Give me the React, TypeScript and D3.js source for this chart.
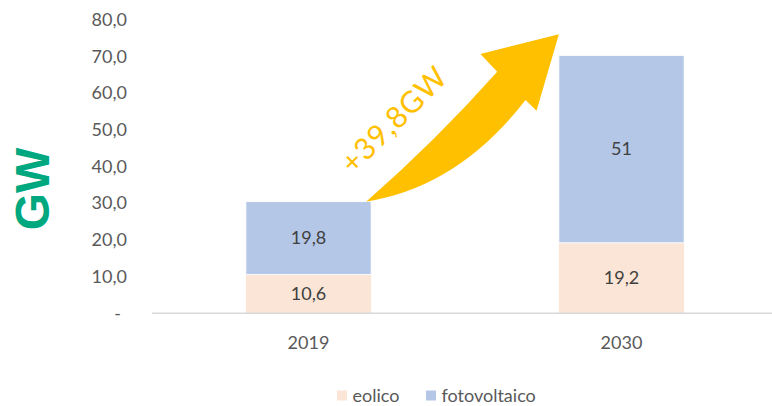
import { useEffect, useRef } from "react";
import * as d3 from "d3";

const years = ["2019", "2030"];
const eolico = [10.6, 19.2];
const fotovoltaico = [19.8, 51];
const eolicoLabels = ["10,6", "19,2"];
const fotoLabels = ["19,8", "51"];
const yTicks = [0, 10, 20, 30, 40, 50, 60, 70, 80];
const growthLabel = "+39,8GW";

const W = 772;
const H = 406;
const FONT = "Lato, 'Open Sans', sans-serif";

const App = () => {
  const ref = useRef<SVGSVGElement | null>(null);

  useEffect(() => {
    const svg = d3.select(ref.current);
    svg.selectAll("*").remove();

    const x = d3
      .scaleBand()
      .domain(years)
      .range([152, 778])
      .paddingInner(0.6)
      .paddingOuter(0.3);
    const y = d3.scaleLinear().domain([0, 80]).range([313.3, 19.5]);
    const bw = x.bandwidth();

    // y tick labels (no axis line)
    const fmt = (v: number) => (v === 0 ? "-" : d3.format(".1f")(v).replace(".", ","));
    svg
      .append("g")
      .selectAll("text")
      .data(yTicks)
      .join("text")
      .attr("x", (d) => (d === 0 ? 121 : 127))
      .attr("y", (d) => y(d))
      .attr("dy", "0.35em")
      .attr("text-anchor", "end")
      .style("font-family", FONT)
      .style("font-size", "18px")
      .style("fill", "#595959")
      .text(fmt);

    // GW title
    svg
      .append("text")
      .attr("transform", "translate(31.5,189) rotate(-90)")
      .attr("text-anchor", "middle")
      .attr("dy", "0.36em")
      .style("font-family", "'Liberation Sans', Arial, sans-serif")
      .style("font-weight", "bold")
      .style("font-size", "48px")
      .style("fill", "#00A880")
      .text("GW");

    // stacked bars
    const rows = years.map((yr, i) => ({
      yr,
      e: eolico[i],
      f: fotovoltaico[i],
      el: eolicoLabels[i],
      fl: fotoLabels[i],
    }));
    const g = svg.append("g");
    g.selectAll("rect.eol")
      .data(rows)
      .join("rect")
      .attr("class", "eol")
      .attr("x", (d) => x(d.yr)!)
      .attr("width", bw)
      .attr("y", (d) => y(d.e))
      .attr("height", (d) => y(0) - y(d.e))
      .style("fill", "#FBE5D6");
    g.selectAll("rect.fot")
      .data(rows)
      .join("rect")
      .attr("class", "fot")
      .attr("x", (d) => x(d.yr)!)
      .attr("width", bw)
      .attr("y", (d) => y(d.e + d.f))
      .attr("height", (d) => y(d.e) - y(d.e + d.f))
      .style("fill", "#B4C7E7")
      .style("stroke", "#fff")
      .style("stroke-width", 0.8);

    // x axis baseline
    svg
      .append("line")
      .attr("x1", 152)
      .attr("x2", W)
      .attr("y1", y(0))
      .attr("y2", y(0))
      .style("stroke", "#D9D9D9")
      .style("stroke-width", 1.5);

    // data labels
    const labelStyle = (sel: any) =>
      sel
        .attr("text-anchor", "middle")
        .attr("dy", "0.35em")
        .style("font-family", FONT)
        .style("font-size", "18px")
        .style("fill", "#404040");
    labelStyle(
      g.selectAll("text.el")
        .data(rows)
        .join("text")
        .attr("class", "el")
        .attr("x", (d: any) => x(d.yr)! + bw / 2)
        .attr("y", (d: any) => y(d.e / 2))
        .text((d: any) => d.el)
    );
    labelStyle(
      g.selectAll("text.fl")
        .data(rows)
        .join("text")
        .attr("class", "fl")
        .attr("x", (d: any) => x(d.yr)! + bw / 2)
        .attr("y", (d: any) => y(d.e + d.f / 2))
        .text((d: any) => d.fl)
    );

    // x category labels
    svg
      .append("g")
      .selectAll("text")
      .data(years)
      .join("text")
      .attr("x", (d) => x(d)! + bw / 2)
      .attr("y", 343)
      .attr("dy", "0.35em")
      .attr("text-anchor", "middle")
      .style("font-family", FONT)
      .style("font-size", "18px")
      .style("fill", "#595959")
      .text((d) => d);

    // growth arrow: from top-right corner of 2019 bar towards 2030 bar
    const tx = x("2019")! + bw - 5;
    const ty = y(eolico[0] + fotovoltaico[0]);
    const px = x("2030")!;
    const py = y(76);
    const dx = px - tx;
    const dy = py - ty;
    const pt = (u: number, v: number) => [tx + u * dx, ty + v * dy];
    const p = d3.path();
    const a0 = pt(0, 0);
    p.moveTo(a0[0], a0[1]);
    const c1 = pt(0.36, 0.362);
    const u1 = pt(0.68, 0.776);
    p.quadraticCurveTo(c1[0], c1[1], u1[0], u1[1]);
    const hl = pt(0.593, 0.882);
    p.lineTo(hl[0], hl[1]);
    const tip = pt(1, 1);
    p.lineTo(tip[0], tip[1]);
    const hr = pt(0.884, 0.543);
    p.lineTo(hr[0], hr[1]);
    const inr = pt(0.827, 0.607);
    p.lineTo(inr[0], inr[1]);
    const c2 = pt(0.479, 0.087);
    p.quadraticCurveTo(c2[0], c2[1], a0[0], a0[1]);
    p.closePath();
    svg.append("path").attr("d", p.toString()).style("fill", "#FFC000");

    svg
      .append("text")
      .attr("transform", `translate(${tx + 28},${ty - 82}) rotate(-45)`)
      .attr("text-anchor", "middle")
      .attr("dy", "0.35em")
      .style("font-family", FONT)
      .style("font-size", "30px")
      .style("letter-spacing", "1px")
      .style("fill", "#FFC000")
      .text(growthLabel);

    // legend
    const legend = [
      { name: "eolico", color: "#FBE5D6", x: 337 },
      { name: "fotovoltaico", color: "#B4C7E7", x: 426 },
    ];
    const lg = svg.append("g");
    lg.selectAll("rect")
      .data(legend)
      .join("rect")
      .attr("x", (d) => d.x)
      .attr("y", 390.5)
      .attr("width", 10)
      .attr("height", 10)
      .style("fill", (d) => d.color);
    lg.selectAll("text")
      .data(legend)
      .join("text")
      .attr("x", (d) => d.x + 15.5)
      .attr("y", 395.5)
      .attr("dy", "0.35em")
      .style("font-family", FONT)
      .style("font-size", "18px")
      .style("fill", "#595959")
      .text((d) => d.name);
  }, []);

  return (
    <svg
      ref={ref}
      width={W}
      height={H}
      style={{ position: "absolute", left: 0, top: 0, background: "#fff" }}
    />
  );
};

export default App;
